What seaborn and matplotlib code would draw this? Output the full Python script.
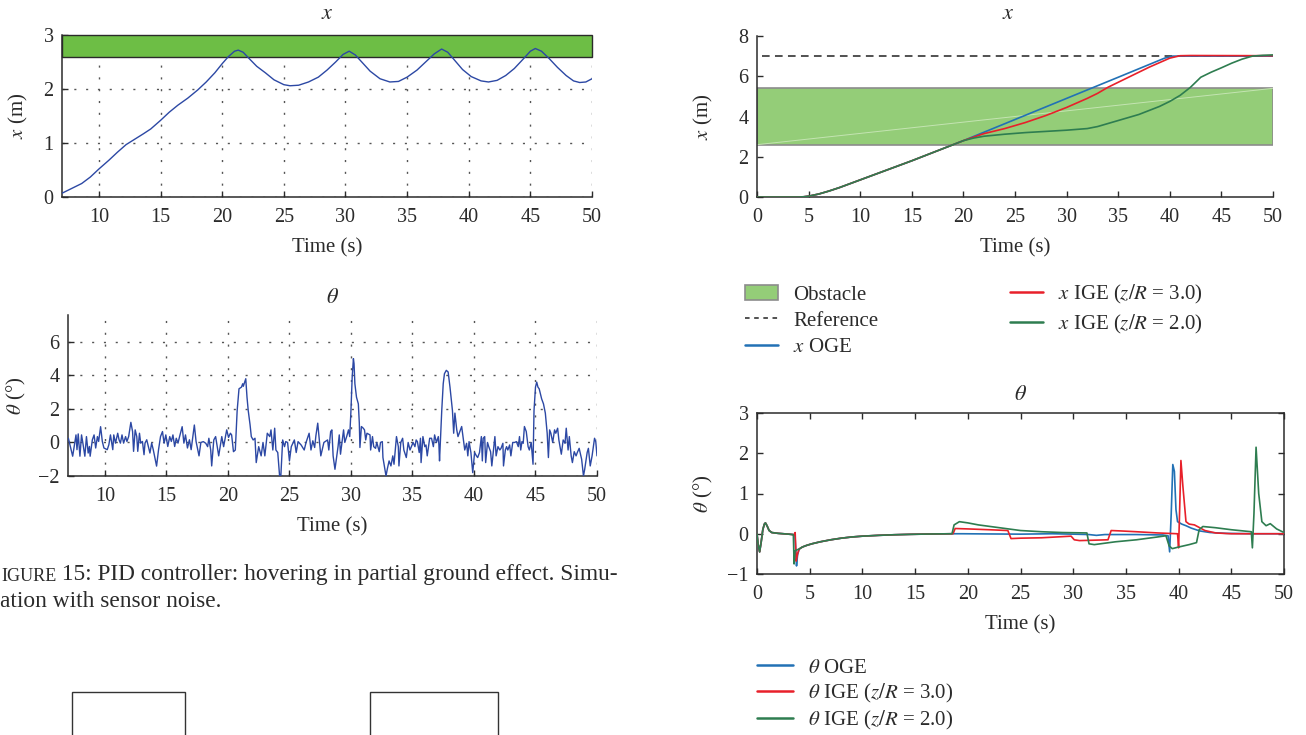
import matplotlib
matplotlib.use("Agg")
import matplotlib.pyplot as plt
from matplotlib.patches import Rectangle, Patch
from matplotlib.lines import Line2D
import pandas as pd
import seaborn as sns

sns.set_theme(style="ticks")
plt.rcParams["font.family"] = ["Liberation Serif", "DejaVu Serif"]
plt.rcParams["mathtext.fontset"] = "stix"
plt.rcParams["axes.unicode_minus"] = True

# ---------------- data: PID hover in partial ground effect (left column) ----------------
pid_x_t = [7, 7.8, 8.6, 9.3, 10, 10.8, 11.5, 12.2, 12.9, 13.6, 14.2, 15, 15.7, 16.4, 17.2,
           18, 18.7, 19.4, 20, 20.5, 21, 21.3, 21.7, 22.2, 22.8, 23.5, 24.2, 25, 25.5, 26.2,
           27, 27.8, 28.5, 29.2, 29.8, 30.3, 30.8, 31.4, 32, 32.8, 33.6, 34.3, 35, 35.8, 36.5,
           37.2, 37.8, 38.3, 38.9, 39.5, 40.2, 41, 41.6, 42.3, 43, 43.7, 44.4, 45, 45.4, 45.9,
           46.5, 47.2, 47.9, 48.5, 49, 49.5, 50]
pid_x_v = [0.07, 0.16, 0.25, 0.37, 0.52, 0.68, 0.83, 0.97, 1.07, 1.17, 1.26, 1.42, 1.57, 1.70,
           1.83, 1.98, 2.13, 2.30, 2.47, 2.60, 2.70, 2.72, 2.68, 2.56, 2.42, 2.30, 2.17, 2.08,
           2.06, 2.07, 2.13, 2.22, 2.35, 2.50, 2.64, 2.70, 2.63, 2.48, 2.33, 2.19, 2.13, 2.14,
           2.22, 2.35, 2.50, 2.65, 2.74, 2.68, 2.52, 2.36, 2.23, 2.15, 2.13, 2.16, 2.25, 2.38,
           2.55, 2.70, 2.75, 2.70, 2.57, 2.40, 2.25, 2.15, 2.12, 2.13, 2.19]
pid_obstacle = (2.6, 3.0)

pid_th_t = [7.03, 7.38, 7.65, 7.73, 7.83, 7.97, 8.10, 8.21, 8.37, 8.50, 8.64, 8.74, 8.80, 8.98,
            9.12, 9.25, 9.39, 9.49, 9.65, 9.79, 9.92, 10.19, 10.32, 10.45, 10.64, 10.72, 10.86,
            11.04, 11.15, 11.26, 11.39, 11.52, 11.68, 11.79, 11.93, 12.11, 12.25, 12.33, 12.46,
            12.59, 12.67, 12.81, 12.91, 13.05, 13.18, 13.26, 13.40, 13.53, 13.66, 13.80, 13.93,
            14.20, 14.36, 14.52, 14.68, 14.81, 14.95, 15.11, 15.27, 15.40, 15.53, 15.67, 15.80,
            15.94, 16.07, 16.28, 16.42, 16.55, 16.71, 16.87, 17.01, 17.27, 17.41, 17.55,
            17.65, 17.8, 18.0, 18.2, 18.35, 18.45, 18.6, 18.68, 18.85, 19.0, 19.25, 19.5, 19.65,
            19.9, 20.05, 20.2, 20.3, 20.45, 20.6, 20.75, 20.9, 21.1, 21.2, 21.25, 21.4, 21.45,
            21.55, 21.65, 21.8, 21.9, 22.05, 22.2, 22.3, 22.5, 22.7, 22.85, 23.0, 23.2, 23.4,
            23.5, 23.65, 23.8, 23.9, 24.05, 24.2, 24.3, 24.45, 24.6, 24.7, 24.85, 25.0, 25.15,
            25.4, 25.55, 25.7, 25.95, 26.2, 26.35, 26.6, 26.75, 26.9, 27.05, 27.15, 27.3, 27.55,
            27.8, 28.1, 28.2, 28.35, 28.45,
            28.55, 28.7, 28.85, 28.95, 29.05, 29.15, 29.4, 29.5, 29.65, 29.8, 29.9, 30.0, 30.1,
            30.2, 30.25, 30.32, 30.45, 30.6, 30.68, 30.73, 30.85, 31.0, 31.1, 31.2, 31.3, 31.55,
            31.6, 31.75, 31.85, 32.0, 32.1, 32.3, 32.4, 32.55, 32.6, 32.85, 32.95, 33.1, 33.25,
            33.4, 33.5, 33.7, 33.85, 33.9, 34.05, 34.2, 34.3, 34.5, 34.65, 34.8, 35.05, 35.2,
            35.3, 35.4, 35.55, 35.65, 35.7, 35.85, 36.0, 36.1, 36.2, 36.4, 36.55, 36.7, 36.8,
            36.95, 37.1, 37.15, 37.2, 37.38, 37.5, 37.6, 37.75, 37.9, 38.05, 38.25, 38.35, 38.45,
            38.6, 38.7, 39.0, 39.25,
            39.4, 39.5, 39.6, 39.75, 39.9, 40.05, 40.2, 40.3, 40.45, 40.6, 40.68, 40.75, 40.87,
            40.95, 41.1, 41.2, 41.35, 41.45, 41.7, 41.8, 41.95, 42.1, 42.2, 42.35, 42.4, 42.55,
            42.65, 42.75, 42.9, 43.0, 43.15, 43.3, 43.45, 43.6, 43.7, 43.8, 43.9, 44.0, 44.1,
            44.25, 44.4, 44.5, 44.65, 44.8, 44.88, 45.0, 45.1, 45.2, 45.3, 45.5, 45.65, 45.8,
            45.95, 46.05, 46.15, 46.25, 46.4, 46.55, 46.65, 46.8, 46.9, 47.1, 47.25, 47.4, 47.5,
            47.65, 47.75, 47.9, 48.0, 48.15, 48.3, 48.4, 48.55, 48.75, 48.9, 49.0, 49.2, 49.3,
            49.45, 49.6, 49.8, 49.9, 50.0]
pid_th_v = [0.25, -0.82, 0.45, -0.43, 0.51, -0.82, 0.45, -0.04, -0.82, 0.35, -0.63, -0.24, -0.82,
            0.16, 0.45, -0.33, 0.35, 0.06, 0.94, 0.06, -0.33, -0.43, -0.14, 0.45, -0.43, 0.45,
            -0.04, 0.55, 0.16, -0.04, 0.45, -0.04, 0.35, 0.06, 0.35, 1.2, 0.65, -0.53, 0.75,
            0.35, -0.53, 0.55, -0.04, 0.06, -0.73, -0.04, 0.16, -0.24, -0.63, -0.04, -0.43,
            -1.41, -0.43, 0.35, 0.65, -0.04, 0.45, -0.24, 0.35, 0.06, 0.45, -0.24, 0.25,
            -0.04, 0.35, 0.94, -0.04, 0.45, -0.33, 0.16, -0.43, 1.04, 0.06, -0.43,
            -0.8, 0.0, 0.05, -0.05, -0.25, 0.25, -0.45, -1.4, 0.15, 0.35, -0.8, 0.35, -0.25,
            0.75, 0.3, 0.55, 0.45, -0.55, -0.45, 1.9, 3.2, 3.3, 3.5, 3.35, 3.7, 3.8,
            2.7, 1.9, 1.05, 0.35, 0.15, 0.25, -1.2, -0.25, -0.8, 0.0, -0.8, 0.55, 0.35,
            0.75, -0.45, 0.85, -0.45, -0.6, -2.0, -2.0, 0.15, -0.25, 0.05, 0.0, -1.1, -0.25,
            0.15, -0.6, 0.05, -0.15, -0.45, 0.0, 0.55, -0.45, 0.1, -0.3, 0.4, 1.15, -0.8,
            0.0, 0.15, -0.45, 0.65, 0.75,
            -0.8, -1.6, -0.8, -0.25, 0.45, -0.7, 0.75, 0.0, 0.35, 0.75, 0.35, 1.9, 3.9,
            5.0, 4.7, 3.5, 2.7, 2.3, 1.15, -0.3, 0.95, 0.85, 0.75, 0.15, 0.55, 0.45,
            -0.45, 0.35, -0.25, -0.35, 0.0, -0.55, 0.0, 0.05, -0.9, -2.0, -1.6, -1.1, -1.4,
            -0.8, -1.3, 0.35, -0.25, -1.4, 0.0, 0.25, -0.45, -0.9, 0.0, -0.45, 0.0, -0.25,
            0.15, 0.05, -0.6, 0.25, -1.2, 0.35, -0.25, -0.15, -0.8, 0.25, 0.25, -0.25, 0.45,
            0.0, 0.35, -0.15, -1.1, 1.9, 3.5, 4.1, 4.3, 4.2, 3.3, 1.9, 0.55, 1.75,
            0.75, 0.35, 0.95, -0.45,
            -0.05, -0.8, 0.05, -0.6, -1.8, -0.6, -0.8, -0.9, -0.6, 0.35, -1.1, 0.25, 0.35,
            -1.2, 0.0, -0.25, -0.55, -1.4, 0.35, -0.8, -0.25, -0.45, -0.35, -0.05, -1.4, -0.45,
            -0.25, -0.45, -0.15, -0.8, 0.0, 0.0, 0.05, -0.25, 0.35, -0.45, 0.05, -0.05, 0.95,
            0.65, -0.25, -0.45, 0.0, -1.3, 1.9, 3.3, 3.6, 3.3, 3.2, 2.6, 2.3, 1.75,
            0.55, -0.9, 0.75, 0.55, 0.0, 0.75, 0.55, 0.85, 0.15, -0.7, 0.15, -0.05, 0.85,
            -0.45, 0.35, -0.8, -1.2, -0.55, -0.8, -0.6, -0.35, -1.0, -2.0, -1.6, -0.6, -0.35,
            -1.4, -0.8, 0.25, 0.05, -0.8]

# ---------------- data: obstacle avoidance runs (right column) ----------------
runs = ["OGE", "IGE3", "IGE2"]
run_colors = {"OGE": "#2271b5", "IGE3": "#e8202a", "IGE2": "#2e7d50"}

x_rise_t = [0, 2, 4, 4.5, 5, 6, 7, 8, 9, 10, 11, 12, 13, 14, 15, 16, 17, 18, 19, 20]
x_rise_v = [0, 0, 0, 0.01, 0.04, 0.15, 0.3, 0.47, 0.66, 0.85, 1.04, 1.23, 1.42, 1.61, 1.8,
            2.0, 2.2, 2.4, 2.6, 2.8]
x_oge_t = [25, 30, 35, 39.5, 40.3, 45, 50]
x_oge_v = [3.85, 4.9, 5.95, 6.9, 7.0, 7.0, 7.0]
x_ige3_t = [22, 24, 26, 28, 30, 32, 33, 34, 35, 36, 38, 40, 41, 42, 50]
x_ige3_v = [3.15, 3.4, 3.7, 4.05, 4.45, 4.9, 5.15, 5.45, 5.7, 5.95, 6.45, 6.9, 7.02, 7.03, 7.02]
x_ige2_t = [21, 22, 24, 26, 28, 30, 32, 33, 34, 35, 36, 37, 38, 39, 40, 41, 42, 43, 44,
            45, 46, 47, 48, 49, 50]
x_ige2_v = [2.93, 3.02, 3.12, 3.2, 3.26, 3.32, 3.4, 3.5, 3.65, 3.8, 3.95, 4.1, 4.3, 4.5,
            4.75, 5.05, 5.45, 5.95, 6.2, 6.42, 6.65, 6.85, 7.0, 7.04, 7.06]
x_reference = 7.0
x_reference_span = (0.5, 50)
obstacle_band = (2.6, 5.4)

th_start_t = [0.0, 0.1, 0.25, 0.4, 0.55, 0.7, 0.8, 0.95, 1.15, 1.4, 1.7, 2.0, 2.5, 3.0, 3.4]
th_start_v = [0.0, -0.25, -0.45, -0.2, 0.1, 0.24, 0.27, 0.2, 0.08, 0.03, 0.02, 0.01, 0.0,
              -0.01, -0.02]
th_decay_t = [4.0, 4.3, 4.7, 5.2, 6.0, 7.0, 8.0, 9.0, 10.0, 11.5, 13.0, 14.5, 16.0, 17.5, 18.5]
th_decay_v = [-0.38, -0.33, -0.29, -0.25, -0.2, -0.15, -0.11, -0.08, -0.06, -0.04, -0.025,
              -0.015, -0.008, -0.003, 0.0]
th_oge_dip_t = [3.6, 3.75, 3.85]
th_oge_dip_v = [-0.02, -0.8, -0.52]
th_ige3_dip_t = [3.55, 3.62, 3.72, 3.85]
th_ige3_dip_v = [-0.02, 0.03, -0.68, -0.5]
th_ige2_dip_t = [3.45, 3.52, 3.62, 3.8]
th_ige2_dip_v = [-0.03, -0.75, -0.42, -0.4]
th_oge_t = [19.5, 22, 25, 28, 30, 31.5, 32.2, 33, 36, 38.5, 39.0, 39.15, 39.3, 39.45, 39.6,
            39.75, 39.9, 40.3, 40.7, 41.2, 42, 43, 44.5, 47, 50]
th_oge_v = [0.0, -0.005, -0.01, 0.0, -0.01, -0.02, -0.04, -0.02, -0.02, -0.03, -0.05, -0.45,
            0.5, 1.72, 1.55, 0.6, 0.3, 0.24, 0.2, 0.14, 0.07, 0.03, 0.01, 0.0, 0.0]
th_ige3_t = [18.6, 18.8, 20, 22, 23.8, 24.1, 25, 27, 29.8, 30.1, 30.6, 32, 33.3, 33.6, 34.5,
             36, 38, 39.9, 40.0, 40.1, 40.22, 40.4, 40.7, 41.0, 41.5, 42.0, 42.5, 43.5, 45, 50]
th_ige3_v = [0.0, 0.13, 0.12, 0.1, 0.08, -0.12, -0.11, -0.1, -0.06, -0.15, -0.17, -0.16,
             -0.15, 0.08, 0.07, 0.05, 0.02, 0.0, -0.35, 0.6, 1.82, 1.2, 0.3, 0.24, 0.22, 0.15,
             0.08, 0.02, 0.0, 0.0]
th_ige2_t = [18.7, 19.2, 20, 21, 23, 25, 27, 29, 31.3, 31.5, 32, 34, 36, 38, 38.8, 39.1, 39.4,
             40, 41, 41.7, 41.95, 42.3, 43.5, 45, 46.9, 47.0, 47.15, 47.35, 47.6, 47.9, 48.3,
             48.7, 49.3, 50]
th_ige2_v = [0.22, 0.3, 0.27, 0.22, 0.15, 0.08, 0.05, 0.03, 0.02, -0.25, -0.27, -0.2, -0.15,
             -0.08, -0.05, -0.3, -0.37, -0.33, -0.27, -0.22, 0.1, 0.18, 0.15, 0.1, 0.05,
             -0.35, 0.5, 2.15, 1.0, 0.3, 0.2, 0.25, 0.12, 0.03]


def long_frame(pieces):
    rows = []
    for run, parts in pieces.items():
        for ts, vs in parts:
            rows += [(run, t, v) for t, v in zip(ts, vs)]
    return pd.DataFrame(rows, columns=["run", "time", "value"])


df_x = long_frame({
    "OGE": [(x_rise_t, x_rise_v), (x_oge_t, x_oge_v)],
    "IGE3": [(x_rise_t, x_rise_v), (x_ige3_t, x_ige3_v)],
    "IGE2": [(x_rise_t, x_rise_v), (x_ige2_t, x_ige2_v)],
})
df_th = long_frame({
    "OGE": [(th_start_t, th_start_v), (th_oge_dip_t, th_oge_dip_v),
            (th_decay_t, th_decay_v), (th_oge_t, th_oge_v)],
    "IGE3": [(th_start_t, th_start_v), (th_ige3_dip_t, th_ige3_dip_v),
             (th_decay_t, th_decay_v), (th_ige3_t, th_ige3_v)],
    "IGE2": [(th_start_t, th_start_v), (th_ige2_dip_t, th_ige2_dip_v),
             (th_decay_t, th_decay_v), (th_ige2_t, th_ige2_v)],
})

# ---------------- figure layout ----------------
W, H = 1306, 735
fig = plt.figure(figsize=(W / 100, H / 100), dpi=100)
fig.patch.set_facecolor("white")


def box(l, t, r, b):
    return [l / W, 1 - b / H, (r - l) / W, (b - t) / H]


ax_tl = fig.add_axes(box(62, 35, 592, 197))
ax_bl = fig.add_axes(box(68, 315, 597, 476))
ax_tr = fig.add_axes(box(757, 36, 1273, 197))
ax_br = fig.add_axes(box(757, 413, 1284, 574))

INK = "#2b2b2b"
FS = 15
TICK_FS = 14.5
PID_BLUE = "#2c48a4"
grid_style = dict(color="#555555", linestyle=(0, (1.5, 7)), linewidth=1.0)


def style_axes(ax, box_all=False):
    for side in ["left", "bottom", "top", "right"]:
        ax.spines[side].set_color(INK)
        ax.spines[side].set_linewidth(1.1)
        if side in ("top", "right"):
            ax.spines[side].set_visible(box_all)
    ax.tick_params(direction="in", length=4, width=1, colors=INK, labelsize=TICK_FS, pad=6,
                   top=box_all, right=box_all)
    ax.tick_params(axis="x", pad=8)
    ax.set_facecolor("white")


def finish(ax, ylabel, title_text, ylabel_x, title_xy):
    ax.set_xlabel("Time (s)", fontsize=FS, color=INK, labelpad=8)
    ax.set_ylabel(ylabel, fontsize=FS, color=INK)
    ax.yaxis.set_label_coords(ylabel_x, 0.5)
    ax.text(title_xy[0], title_xy[1], title_text, transform=ax.transAxes, ha="center",
            va="center", fontsize=FS + 1, color=INK)


# ---- top-left: x, PID ----
style_axes(ax_tl)
ax_tl.set_axisbelow(True)
ax_tl.grid(True, **grid_style)
ax_tl.add_patch(Rectangle((7, pid_obstacle[0]), 50 - 7, pid_obstacle[1] - pid_obstacle[0],
                          facecolor="#6dbe45", edgecolor="#2a2a2a", linewidth=1.0,
                          zorder=1, clip_on=False))
sns.lineplot(x=pid_x_t, y=pid_x_v, ax=ax_tl, color=PID_BLUE, linewidth=1.0,
             estimator=None, zorder=3)
ax_tl.set_xlim(7, 50)
ax_tl.set_ylim(0, 3)
ax_tl.set_xticks([10, 15, 20, 25, 30, 35, 40, 45, 50])
ax_tl.set_yticks([0, 1, 2, 3])
finish(ax_tl, "$x$ (m)", "$x$", -0.060, (0.5, 1.128))

# ---- bottom-left: theta, PID with sensor noise ----
style_axes(ax_bl)
ax_bl.set_axisbelow(True)
ax_bl.grid(True, **grid_style)
sns.lineplot(x=pid_th_t, y=pid_th_v, ax=ax_bl, color=PID_BLUE, linewidth=1.0,
             estimator=None, zorder=3)
ax_bl.set_xlim(7, 50)
ax_bl.set_ylim(-2, 7.6)
ax_bl.set_xticks([10, 15, 20, 25, 30, 35, 40, 45, 50])
ax_bl.set_yticks([-2, 0, 2, 4, 6])
finish(ax_bl, r"$\theta$ (°)", r"$\theta$", -0.076, (0.5, 1.10))

# ---- top-right: x, obstacle avoidance ----
style_axes(ax_tr)
ax_tr.add_patch(Rectangle((0, obstacle_band[0]), 50, obstacle_band[1] - obstacle_band[0],
                          facecolor="#94cd78", edgecolor="#8c8c8c", linewidth=1.2, zorder=1))
ax_tr.plot([0, 50], list(obstacle_band), color="#c4e4b2", linewidth=0.7, zorder=1.5)
ax_tr.plot(list(x_reference_span), [x_reference, x_reference], color="#222222",
           linewidth=1.1, linestyle=(0, (5, 3.5)), zorder=2)
sns.lineplot(data=df_x, x="time", y="value", hue="run", hue_order=runs, palette=run_colors,
             ax=ax_tr, linewidth=1.2, estimator=None, legend=False, zorder=3)
ax_tr.set_xlim(0, 50)
ax_tr.set_ylim(0, 8)
ax_tr.set_xticks(range(0, 51, 5))
ax_tr.set_yticks([0, 2, 4, 6, 8])
finish(ax_tr, "$x$ (m)", "$x$", -0.082, (0.487, 1.132))

# ---- bottom-right: theta, obstacle avoidance ----
style_axes(ax_br, box_all=True)
sns.lineplot(data=df_th, x="time", y="value", hue="run", hue_order=runs, palette=run_colors,
             ax=ax_br, linewidth=1.2, estimator=None, legend=False, zorder=3)
ax_br.set_xlim(0, 50)
ax_br.set_ylim(-1, 3)
ax_br.set_xticks(range(0, 51, 5))
ax_br.set_yticks([-1, 0, 1, 2, 3])
finish(ax_br, r"$\theta$ (°)", r"$\theta$", -0.080, (0.5, 1.107))

# ---------------- legends ----------------
leg_kw = dict(frameon=False, fontsize=FS, borderpad=0, borderaxespad=0,
              handletextpad=0.72, labelcolor=INK)
x_handles = [
    Patch(facecolor="#94cd78", edgecolor="#8c8c8c", linewidth=1.2),
    Line2D([], [], color="#222222", linewidth=1.1, linestyle=(0, (3, 3))),
    Line2D([], [], color=run_colors["OGE"], linewidth=1.8),
    Line2D([], [], color=run_colors["IGE3"], linewidth=1.8),
    Line2D([], [], color=run_colors["IGE2"], linewidth=1.8),
]
x_labels = ["Obstacle", "Reference", "$x$ OGE",
            "$x$ IGE ($z/R$ = 3.0)", "$x$ IGE ($z/R$ = 2.0)"]
fig.legend(x_handles, x_labels, loc="upper left", bbox_to_anchor=(745 / W, 1 - 283 / H),
           ncol=2, columnspacing=6.3, handlelength=1.6, labelspacing=0.32, **leg_kw)

th_handles = [Line2D([], [], color=run_colors[r], linewidth=1.8) for r in runs]
th_labels = [r"$\theta$ OGE", r"$\theta$ IGE ($z/R$ = 3.0)", r"$\theta$ IGE ($z/R$ = 2.0)"]
fig.legend(th_handles, th_labels, loc="upper left", bbox_to_anchor=(757 / W, 1 - 658 / H),
           handlelength=1.73, labelspacing=0.2, **leg_kw)

# ---------------- caption and block diagram frames ----------------
CAP_FS = 16.8
cap_head = fig.text(1 / W, 1 - 581 / H, "IGURE", fontsize=CAP_FS * 0.78, color=INK,
                    va="baseline")
fig.add_artist(matplotlib.text.Annotation(
    " 15: PID controller: hovering in partial ground effect. Simu-",
    xy=(1, 0), xycoords=cap_head, va="bottom", ha="left", fontsize=CAP_FS, color=INK))
fig.text(0, 1 - 607 / H, "ation with sensor noise.", fontsize=CAP_FS, color=INK,
         va="baseline")

for l, r in [(72, 185), (370, 498)]:
    fig.add_artist(Rectangle((l / W, -0.02), (r - l) / W, (735 - 692) / H + 0.02,
                             transform=fig.transFigure, fill=False, edgecolor="#333333",
                             linewidth=1.0))

fig.savefig("out.png", dpi=100, facecolor="white")
